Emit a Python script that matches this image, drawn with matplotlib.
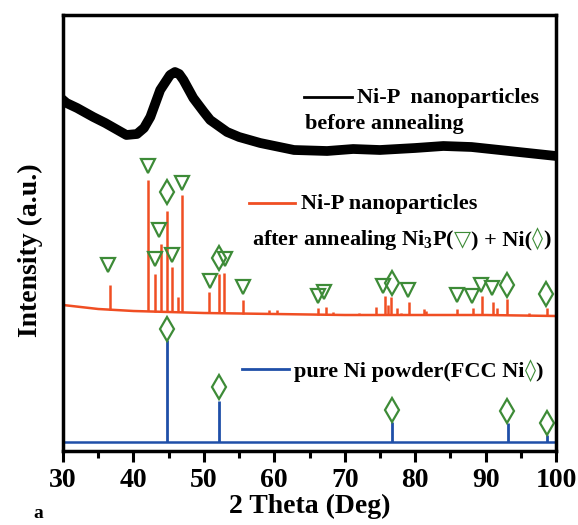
import numpy as np
import matplotlib
matplotlib.use("Agg")
import matplotlib.pyplot as plt
from matplotlib.offsetbox import TextArea, HPacker, AnnotationBbox

plt.rcParams['font.family'] = ['Liberation Serif', 'DejaVu Sans']
plt.rcParams['font.weight'] = 'bold'
plt.rcParams['mathtext.default'] = 'regular'

# before annealing: broad amorphous hump (2theta, intensity)
black_x = [30, 30.5, 32, 34.3, 36, 38, 39, 40.5, 41.5, 42.4, 43.8, 45.2, 45.9,
           46.5, 47.1, 48.5, 50, 50.9, 53.3, 55, 58, 62.8, 67.5, 71.2, 75, 80,
           84, 88, 92, 96, 100]
black_y = [351, 348, 343, 334, 328, 320, 316, 317, 323, 334, 361, 376, 379,
           377, 371, 353, 339, 331, 319, 314, 308, 301, 300, 302, 301, 303,
           305, 304, 301, 298, 295]

# after annealing: baseline and peaks
red_base_x = [30, 35, 40, 50, 60, 70, 80, 90, 100]
red_base_y = [146, 142, 140, 138, 137, 136, 136, 136, 135]
red_peak_pos = [36.7, 42.0, 43.1, 43.9, 44.7, 45.5, 46.3, 46.9, 50.8, 52.1, 52.9,
                55.6, 59.2, 60.4, 66.2, 67.3, 68.4, 72.0, 74.5, 75.7, 76.1, 76.6,
                77.4, 78.0, 79.1, 81.3, 81.6, 85.9, 88.2, 89.5, 91.0, 91.6, 93.1,
                96.1, 98.7]
red_peak_h = [25, 131, 38, 68, 101, 45, 15, 117, 21, 39, 40,
              14, 4, 4, 7, 7.5, 3, 2, 8, 19, 10, 18.5,
              7.5, 2.5, 13, 6, 4, 6.5, 7.5, 19, 13, 7.5, 16.5,
              2.5, 8]
red_tri_x = [36.4, 42.0, 43.1, 43.7, 45.5, 46.9, 50.9, 53.0, 55.5, 66.2, 67.1,
             75.5, 79.0, 85.9, 88.1, 89.4, 90.9]
red_tri_y = [186, 285, 192, 221, 196, 268, 170, 192, 164, 155, 159,
             165, 161, 156, 155, 166, 163]
red_dia_x = [44.7, 52.2, 76.7, 93.1, 98.6]
red_dia_y = [259, 193, 168, 166, 157]

# pure Ni powder
blue_base = 9.5
blue_peak_pos = [44.7, 52.2, 76.7, 93.2, 98.7]
blue_peak_h = [101.5, 40.5, 19.5, 18.5, 6.5]
blue_dia_x = [44.7, 52.2, 76.7, 93.1, 98.7]
blue_dia_y = [122, 64, 41, 40, 28]

red = '#f04e23'
blue = '#1f4fa8'
green = '#3d8b37'

fig = plt.figure(figsize=(5.78, 5.25), dpi=100)
ax = fig.add_axes([63 / 578, 74 / 525, 493 / 578, 436 / 525])

ax.plot(black_x, black_y, color='black', lw=7, solid_joinstyle='round')

ax.plot(red_base_x, red_base_y, color=red, lw=1.8)
red_bottom = np.interp(red_peak_pos, red_base_x, red_base_y)
ax.vlines(red_peak_pos, red_bottom, red_bottom + np.array(red_peak_h), color=red, lw=1.8)

ax.plot([30, 100], [blue_base, blue_base], color=blue, lw=1.8)
ax.vlines(blue_peak_pos, blue_base, blue_base + np.array(blue_peak_h), color=blue, lw=2)

mk = dict(ls='none', mfc='none', mec=green, mew=1.6)
ax.plot(red_tri_x, red_tri_y, marker='v', ms=9.5, **mk)
ax.plot(red_dia_x, red_dia_y, marker='d', ms=12, **mk)
ax.plot(blue_dia_x, blue_dia_y, marker='d', ms=12, **mk)

# in-plot labels
ax.plot([64.2, 71.0], [354, 354], color='black', lw=2)
ax.text(71.8, 353, 'Ni-P  nanoparticles', fontsize=16, va='center')
ax.text(64.4, 327, 'before annealing', fontsize=16, va='center')

ax.plot([56.4, 63.0], [248, 248], color=red, lw=2)
ax.text(63.8, 247, 'Ni-P nanoparticles', fontsize=16, va='center')


def rich(parts):
    boxes = []
    for s, c in parts:
        fam = ['DejaVu Sans'] if c == green else ['Liberation Serif']
        boxes.append(TextArea(s, textprops=dict(color=c, fontsize=16, family=fam,
                                                 weight='bold')))
    return HPacker(children=boxes, align='baseline', pad=0, sep=0)


red_lbl = rich([('after annealing Ni$_3$P(', 'black'), ('\u25bd', green),
                (') + Ni(', 'black'), ('\u25ca', green), (')', 'black')])
ax.add_artist(AnnotationBbox(red_lbl, (56.8, 211), box_alignment=(0, 0.5),
                             frameon=False, pad=0))

ax.plot([55.4, 62.1], [82, 82], color=blue, lw=2)
blue_lbl = rich([('pure Ni powder(FCC Ni', 'black'), ('\u25ca', green), (')', 'black')])
ax.add_artist(AnnotationBbox(blue_lbl, (62.8, 80), box_alignment=(0, 0.5),
                             frameon=False, pad=0))

ax.set_xlim(30, 100)
ax.set_ylim(0, 436)
ax.set_xticks(range(30, 101, 10))
ax.set_xticks(range(35, 100, 10), minor=True)
ax.set_yticks([])
ax.tick_params(axis='x', which='major', direction='out', length=8, width=2.2,
               labelsize=20, pad=4)
ax.tick_params(axis='x', which='minor', direction='out', length=5, width=2.2)
for s in ax.spines.values():
    s.set_linewidth(2.5)
ax.set_xlabel('2 Theta (Deg)', fontsize=20, fontweight='bold', labelpad=1)
fig.text(30 / 578, 1 - 250 / 525, 'Intensity (a.u.)', rotation=90, fontsize=20,
         fontweight='bold', ha='center', va='center')
fig.text(38 / 578, 7 / 525, 'a', fontsize=14, fontweight='bold', va='baseline', ha='center')

fig.savefig('out.png', dpi=100)
